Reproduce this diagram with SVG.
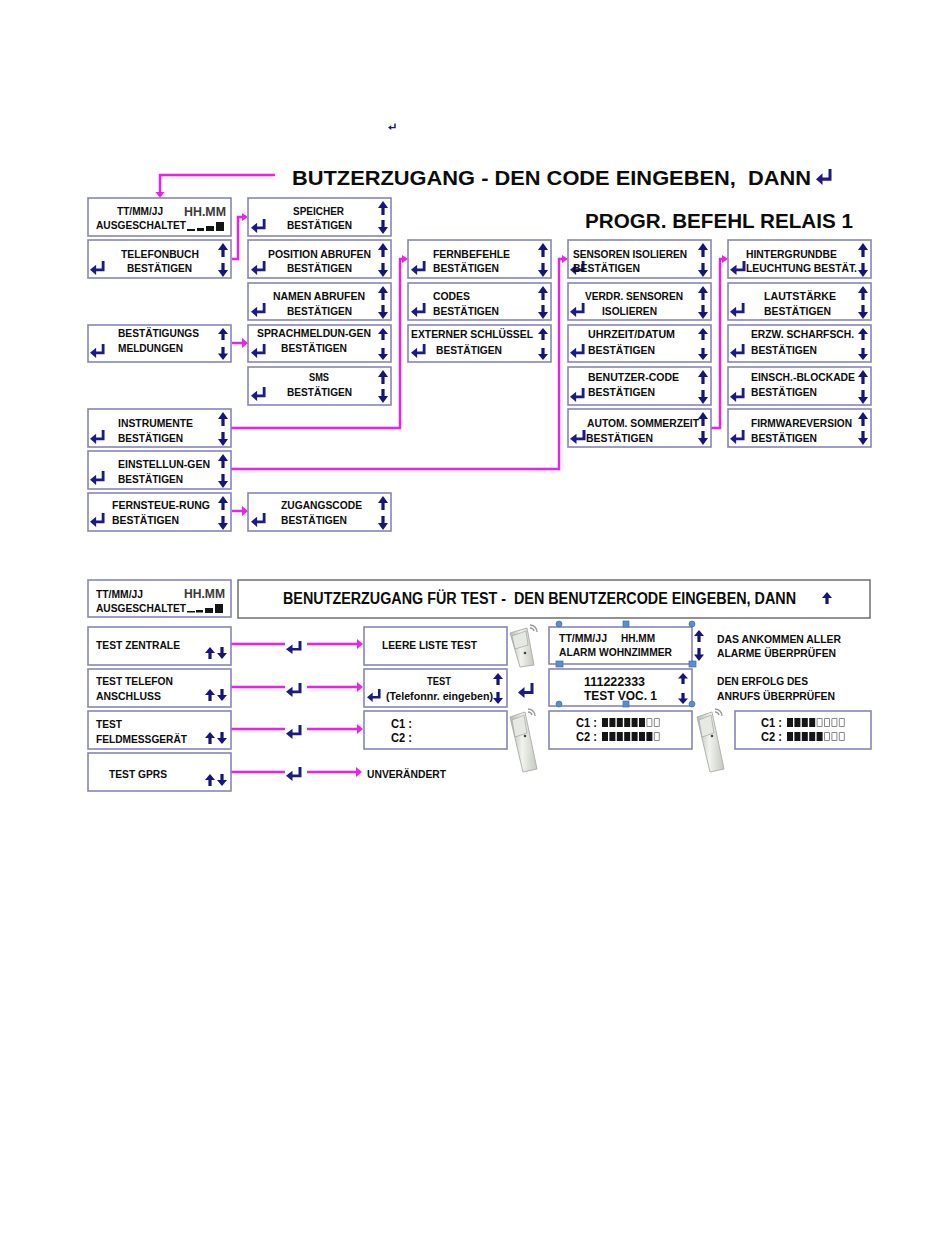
<svg xmlns="http://www.w3.org/2000/svg" width="950" height="1237" viewBox="0 0 950 1237">
<style>
text{font-family:"Liberation Sans",Arial,sans-serif;font-weight:bold;font-size:10.5px;fill:#0c0c0c;white-space:pre}
.b{fill:#fff;stroke:#8585bb;stroke-width:1.600}
.c{fill:none;stroke:#f01cf0;stroke-width:2.400}
.h{fill:#ee20ee}
.hh{font-size:12px;fill:#3a3a3a}
.m{font-size:12px}
.s{fill:#5b8ed0;stroke:#3f6fb0;stroke-width:.7}
.f{fill:#151515}
.o{fill:#fff;stroke:#8a8a8a;stroke-width:1}
.w{fill:none;stroke:#9a9a9a;stroke-width:1.400}
</style>
<defs>
<symbol id="e" viewBox="0 0 16 16" preserveAspectRatio="none"><path d="M14 1V10.500H5" fill="none" stroke="#1b1b86" stroke-width="3"/><path d="M6.500 5L0 10.500L6.500 16Z" fill="#1b1b86"/></symbol>
<symbol id="u" viewBox="0 0 10 14" preserveAspectRatio="none"><path d="M5 14V5" stroke="#14147a" stroke-width="3.200"/><path d="M0 7L5 0L10 7Z" fill="#14147a"/></symbol>
<symbol id="d" viewBox="0 0 10 14" preserveAspectRatio="none"><path d="M5 0V9" stroke="#14147a" stroke-width="3.200"/><path d="M0 7L5 14L10 7Z" fill="#14147a"/></symbol>
<linearGradient id="g" x1="0" x2="1" y1="0" y2="0"><stop offset="0" stop-color="#b4b8ae"/><stop offset=".45" stop-color="#f2f3ee"/><stop offset="1" stop-color="#c4c8c0"/></linearGradient>
</defs>

<use href="#e" x="388" y="123" width="8" height="7"/>
<g id="title1"><text x="292" y="185" style="font-size:21px" textLength="519" lengthAdjust="spacingAndGlyphs">BUTZERZUGANG - DEN CODE EINGEBEN,  DANN</text><use href="#e" x="816" y="168" width="16" height="17"/></g>
<g id="title2"><text x="585" y="228" style="font-size:20px" textLength="268" lengthAdjust="spacingAndGlyphs">PROGR. BEFEHL RELAIS 1</text></g>

<g id="connectors">
<path class="c" d="M275 175H160V193"/><path class="h" d="M155.500 192L160 198L164.500 192Z"/>
<path class="c" d="M232 259H238V217H243"/><path class="h" d="M242 213L248 217L242 221Z"/>
<path class="c" d="M232 343H243"/><path class="h" d="M242 338L248 343L242 348Z"/>
<path class="c" d="M231 428H400V259H403"/><path class="h" d="M402 255L408 259L402 263Z"/>
<path class="c" d="M231 469H559V259H563"/><path class="h" d="M562 255L568 259L562 263Z"/>
<path class="c" d="M711 428H720V259H723"/><path class="h" d="M722 255L728 259L722 263Z"/>
<path class="c" d="M232 511H243"/><path class="h" d="M242 506L248 511L242 516Z"/>
<path class="c" d="M231 644H285M307 644H358"/><path class="h" d="M357 639L363 644L357 649Z"/>
<path class="c" d="M231 687H285M307 687H358"/><path class="h" d="M357 682L363 687L357 692Z"/>
<path class="c" d="M231 729H285M307 729H358"/><path class="h" d="M357 724L363 729L357 734Z"/>
<path class="c" d="M231 772H285M307 772H357"/><path class="h" d="M356 767L362 772L356 777Z"/>
</g>

<g id="n-status"><rect class="b" x="88" y="198" width="143" height="38"/><text x="117" y="215" textLength="46" lengthAdjust="spacingAndGlyphs">TT/MM/JJ</text><text class="hh" x="184" y="216" textLength="42" lengthAdjust="spacingAndGlyphs">HH.MM</text><text x="96" y="229" textLength="90" lengthAdjust="spacingAndGlyphs">AUSGESCHALTET</text><path class="f" d="M187 229h8v2h-8zM197 228h7v3h-7zM206 226h8v5h-8zM216 222h8v9h-8z"/></g>
<g id="n-telefonbuch"><rect class="b" x="88" y="240" width="143" height="38"/><text x="121" y="258" textLength="78" lengthAdjust="spacingAndGlyphs">TELEFONBUCH</text><text x="127" y="272" textLength="65" lengthAdjust="spacingAndGlyphs">BESTÄTIGEN</text><use href="#u" x="218" y="243" width="10" height="14"/><use href="#d" x="218" y="263" width="10" height="14"/><use href="#e" x="90" y="260" width="15" height="15"/></g>
<g id="n-meldungen"><rect class="b" x="88" y="325" width="143" height="37"/><text x="118" y="337" textLength="81" lengthAdjust="spacingAndGlyphs">BESTÄTIGUNGS</text><text x="118" y="352" textLength="65" lengthAdjust="spacingAndGlyphs">MELDUNGEN</text><use href="#u" x="218" y="328" width="10" height="12"/><use href="#d" x="218" y="347" width="10" height="13"/><use href="#e" x="90" y="343" width="15" height="15"/></g>
<g id="n-instrumente"><rect class="b" x="88" y="409" width="143" height="38"/><text x="118" y="427" textLength="75" lengthAdjust="spacingAndGlyphs">INSTRUMENTE</text><text x="118" y="442" textLength="65" lengthAdjust="spacingAndGlyphs">BESTÄTIGEN</text><use href="#u" x="218" y="412" width="10" height="14"/><use href="#d" x="218" y="432" width="10" height="14"/><use href="#e" x="90" y="429" width="15" height="15"/></g>
<g id="n-einstellungen"><rect class="b" x="88" y="451" width="143" height="38"/><text x="118" y="468" textLength="92" lengthAdjust="spacingAndGlyphs">EINSTELLUN-GEN</text><text x="118" y="483" textLength="65" lengthAdjust="spacingAndGlyphs">BESTÄTIGEN</text><use href="#u" x="218" y="454" width="10" height="14"/><use href="#d" x="218" y="474" width="10" height="14"/><use href="#e" x="90" y="470" width="15" height="15"/></g>
<g id="n-fernsteuerung"><rect class="b" x="88" y="493" width="143" height="38"/><text x="112" y="509" textLength="98" lengthAdjust="spacingAndGlyphs">FERNSTEUE-RUNG</text><text x="112" y="524" textLength="67" lengthAdjust="spacingAndGlyphs">BESTÄTIGEN</text><use href="#u" x="218" y="496" width="10" height="14"/><use href="#d" x="218" y="516" width="10" height="14"/><use href="#e" x="90" y="512" width="15" height="15"/></g>

<g id="n-speicher"><rect class="b" x="248" y="198" width="143" height="38"/><text x="293" y="215" textLength="51" lengthAdjust="spacingAndGlyphs">SPEICHER</text><text x="287" y="229" textLength="65" lengthAdjust="spacingAndGlyphs">BESTÄTIGEN</text><use href="#u" x="378" y="201" width="10" height="14"/><use href="#d" x="378" y="220" width="10" height="14"/><use href="#e" x="251" y="218" width="15" height="15"/></g>
<g id="n-position"><rect class="b" x="248" y="240" width="143" height="38"/><text x="268" y="258" textLength="103" lengthAdjust="spacingAndGlyphs">POSITION ABRUFEN</text><text x="287" y="272" textLength="65" lengthAdjust="spacingAndGlyphs">BESTÄTIGEN</text><use href="#u" x="378" y="243" width="10" height="14"/><use href="#d" x="378" y="263" width="10" height="14"/><use href="#e" x="251" y="260" width="15" height="15"/></g>
<g id="n-namen"><rect class="b" x="248" y="283" width="143" height="37"/><text x="273" y="300" textLength="92" lengthAdjust="spacingAndGlyphs">NAMEN ABRUFEN</text><text x="287" y="315" textLength="65" lengthAdjust="spacingAndGlyphs">BESTÄTIGEN</text><use href="#u" x="378" y="286" width="10" height="14"/><use href="#d" x="378" y="305" width="10" height="14"/><use href="#e" x="251" y="302" width="15" height="15"/></g>
<g id="n-sprach"><rect class="b" x="248" y="325" width="143" height="37"/><text x="257" y="337" textLength="114" lengthAdjust="spacingAndGlyphs">SPRACHMELDUN-GEN</text><text x="281" y="352" textLength="66" lengthAdjust="spacingAndGlyphs">BESTÄTIGEN</text><use href="#u" x="378" y="328" width="10" height="12"/><use href="#d" x="378" y="348" width="10" height="12"/><use href="#e" x="251" y="343" width="15" height="15"/></g>
<g id="n-sms"><rect class="b" x="248" y="367" width="143" height="38"/><text x="309" y="381" textLength="20" lengthAdjust="spacingAndGlyphs">SMS</text><text x="287" y="396" textLength="65" lengthAdjust="spacingAndGlyphs">BESTÄTIGEN</text><use href="#u" x="378" y="370" width="10" height="14"/><use href="#d" x="378" y="389" width="10" height="14"/><use href="#e" x="251" y="386" width="15" height="15"/></g>
<g id="n-zugangscode"><rect class="b" x="248" y="493" width="143" height="38"/><text x="281" y="509" textLength="81" lengthAdjust="spacingAndGlyphs">ZUGANGSCODE</text><text x="281" y="524" textLength="66" lengthAdjust="spacingAndGlyphs">BESTÄTIGEN</text><use href="#u" x="378" y="496" width="10" height="14"/><use href="#d" x="378" y="516" width="10" height="14"/><use href="#e" x="251" y="512" width="15" height="15"/></g>

<g id="n-fernbefehle"><rect class="b" x="408" y="240" width="143" height="38"/><text x="433" y="258" textLength="77" lengthAdjust="spacingAndGlyphs">FERNBEFEHLE</text><text x="433" y="272" textLength="66" lengthAdjust="spacingAndGlyphs">BESTÄTIGEN</text><use href="#u" x="538" y="243" width="10" height="14"/><use href="#d" x="538" y="263" width="10" height="14"/><use href="#e" x="411" y="260" width="15" height="15"/></g>
<g id="n-codes"><rect class="b" x="408" y="283" width="143" height="37"/><text x="433" y="300" textLength="37" lengthAdjust="spacingAndGlyphs">CODES</text><text x="433" y="315" textLength="66" lengthAdjust="spacingAndGlyphs">BESTÄTIGEN</text><use href="#u" x="538" y="286" width="10" height="14"/><use href="#d" x="538" y="305" width="10" height="14"/><use href="#e" x="411" y="302" width="15" height="15"/></g>
<g id="n-schluessel"><rect class="b" x="408" y="325" width="143" height="37"/><text x="411" y="338" textLength="122" lengthAdjust="spacingAndGlyphs">EXTERNER SCHLÜSSEL</text><text x="436" y="354" textLength="66" lengthAdjust="spacingAndGlyphs">BESTÄTIGEN</text><use href="#u" x="538" y="328" width="10" height="12"/><use href="#d" x="538" y="348" width="10" height="12"/><use href="#e" x="411" y="343" width="15" height="15"/></g>

<g id="n-sensoren"><rect class="b" x="568" y="240" width="143" height="38"/><use href="#u" x="698" y="243" width="10" height="14"/><use href="#d" x="698" y="263" width="10" height="14"/><use href="#e" x="570" y="260" width="15" height="15"/><text x="573" y="258" textLength="114" lengthAdjust="spacingAndGlyphs">SENSOREN ISOLIEREN</text><text x="573" y="272" textLength="67" lengthAdjust="spacingAndGlyphs">BESTÄTIGEN</text></g>
<g id="n-verdr"><rect class="b" x="568" y="283" width="143" height="37"/><text x="585" y="300" textLength="98" lengthAdjust="spacingAndGlyphs">VERDR. SENSOREN</text><text x="602" y="315" textLength="55" lengthAdjust="spacingAndGlyphs">ISOLIEREN</text><use href="#u" x="698" y="286" width="10" height="14"/><use href="#d" x="698" y="305" width="10" height="14"/><use href="#e" x="570" y="302" width="15" height="15"/></g>
<g id="n-uhrzeit"><rect class="b" x="568" y="325" width="143" height="37"/><text x="588" y="338" textLength="87" lengthAdjust="spacingAndGlyphs">UHRZEIT/DATUM</text><text x="588" y="354" textLength="67" lengthAdjust="spacingAndGlyphs">BESTÄTIGEN</text><use href="#u" x="698" y="328" width="10" height="12"/><use href="#d" x="698" y="348" width="10" height="12"/><use href="#e" x="570" y="343" width="15" height="15"/></g>
<g id="n-benutzer"><rect class="b" x="568" y="367" width="143" height="38"/><text x="588" y="381" textLength="91" lengthAdjust="spacingAndGlyphs">BENUTZER-CODE</text><text x="588" y="396" textLength="67" lengthAdjust="spacingAndGlyphs">BESTÄTIGEN</text><use href="#u" x="698" y="370" width="10" height="14"/><use href="#d" x="698" y="390" width="10" height="14"/><use href="#e" x="570" y="387" width="15" height="15"/></g>
<g id="n-autom"><rect class="b" x="568" y="409" width="143" height="38"/><use href="#u" x="698" y="412" width="10" height="14"/><use href="#d" x="698" y="431" width="10" height="14"/><use href="#e" x="570" y="429" width="16" height="15"/><text x="587" y="427" textLength="112" lengthAdjust="spacingAndGlyphs">AUTOM. SOMMERZEIT</text><text x="586" y="442" textLength="67" lengthAdjust="spacingAndGlyphs">BESTÄTIGEN</text></g>

<g id="n-hintergrund"><rect class="b" x="728" y="240" width="143" height="38"/><use href="#u" x="858" y="243" width="10" height="14"/><use href="#d" x="858" y="263" width="10" height="14"/><use href="#e" x="730" y="260" width="16" height="15"/><text x="746" y="258" textLength="91" lengthAdjust="spacingAndGlyphs">HINTERGRUNDBE</text><text x="746" y="272" textLength="111" lengthAdjust="spacingAndGlyphs">LEUCHTUNG BESTÄT.</text></g>
<g id="n-lautstaerke"><rect class="b" x="728" y="283" width="143" height="37"/><text x="764" y="300" textLength="72" lengthAdjust="spacingAndGlyphs">LAUTSTÄRKE</text><text x="764" y="315" textLength="67" lengthAdjust="spacingAndGlyphs">BESTÄTIGEN</text><use href="#u" x="858" y="286" width="10" height="14"/><use href="#d" x="858" y="305" width="10" height="14"/><use href="#e" x="730" y="302" width="15" height="15"/></g>
<g id="n-erzw"><rect class="b" x="728" y="325" width="143" height="37"/><text x="751" y="338" textLength="103" lengthAdjust="spacingAndGlyphs">ERZW. SCHARFSCH.</text><text x="751" y="354" textLength="66" lengthAdjust="spacingAndGlyphs">BESTÄTIGEN</text><use href="#u" x="858" y="328" width="10" height="12"/><use href="#d" x="858" y="348" width="10" height="12"/><use href="#e" x="730" y="343" width="15" height="15"/></g>
<g id="n-einsch"><rect class="b" x="728" y="367" width="143" height="38"/><text x="751" y="381" textLength="104" lengthAdjust="spacingAndGlyphs">EINSCH.-BLOCKADE</text><text x="751" y="396" textLength="66" lengthAdjust="spacingAndGlyphs">BESTÄTIGEN</text><use href="#u" x="858" y="370" width="10" height="14"/><use href="#d" x="858" y="390" width="10" height="14"/><use href="#e" x="730" y="387" width="15" height="15"/></g>
<g id="n-firmware"><rect class="b" x="728" y="409" width="143" height="38"/><text x="751" y="427" textLength="101" lengthAdjust="spacingAndGlyphs">FIRMWAREVERSION</text><text x="751" y="442" textLength="66" lengthAdjust="spacingAndGlyphs">BESTÄTIGEN</text><use href="#u" x="858" y="412" width="10" height="14"/><use href="#d" x="858" y="431" width="10" height="14"/><use href="#e" x="730" y="429" width="15" height="15"/></g>

<g id="n-status2"><rect class="b" x="88" y="580" width="143" height="37"/><text x="96" y="598" textLength="47" lengthAdjust="spacingAndGlyphs">TT/MM/JJ</text><text class="hh" x="184" y="598" textLength="41" lengthAdjust="spacingAndGlyphs">HH.MM</text><text x="96" y="612" textLength="90" lengthAdjust="spacingAndGlyphs">AUSGESCHALTET</text><path class="f" d="M187 611h8v1.500h-8zM196 610h7v2.500h-7zM205 608h8v5h-8zM215 604h8v9h-8z"/></g>
<g id="n-title3"><rect x="238" y="580" width="632" height="38" fill="#fff" stroke="#777" stroke-width="1.600"/><text x="283" y="604" style="font-size:16px" textLength="513" lengthAdjust="spacingAndGlyphs">BENUTZERZUGANG FÜR TEST -  DEN BENUTZERCODE EINGEBEN, DANN</text><use href="#u" x="822" y="592" width="10" height="12"/></g>

<g id="n-testzentrale"><rect class="b" x="88" y="627" width="143" height="38"/><text x="96" y="649" textLength="84" lengthAdjust="spacingAndGlyphs">TEST ZENTRALE</text><use href="#u" x="205" y="647" width="10" height="12"/><use href="#d" x="217" y="647" width="10" height="12"/></g>
<g id="n-testtelefon"><rect class="b" x="88" y="669" width="143" height="38"/><text x="96" y="685" textLength="77" lengthAdjust="spacingAndGlyphs">TEST TELEFON</text><text x="96" y="700" textLength="65" lengthAdjust="spacingAndGlyphs">ANSCHLUSS</text><use href="#u" x="205" y="689" width="10" height="12"/><use href="#d" x="217" y="689" width="10" height="12"/></g>
<g id="n-testfeld"><rect class="b" x="88" y="711" width="143" height="38"/><text x="96" y="728" textLength="26" lengthAdjust="spacingAndGlyphs">TEST</text><text x="96" y="743" textLength="91" lengthAdjust="spacingAndGlyphs">FELDMESSGERÄT</text><use href="#u" x="205" y="732" width="10" height="12"/><use href="#d" x="217" y="732" width="10" height="12"/></g>
<g id="n-testgprs"><rect class="b" x="88" y="753" width="143" height="38"/><text x="109" y="778" textLength="58" lengthAdjust="spacingAndGlyphs">TEST GPRS</text><use href="#u" x="205" y="774" width="10" height="12"/><use href="#d" x="217" y="774" width="10" height="12"/></g>

<g id="enter-icons"><use href="#e" x="286" y="640" width="16" height="14"/><use href="#e" x="286" y="682" width="16" height="15"/><use href="#e" x="286" y="724" width="16" height="15"/><use href="#e" x="286" y="766" width="16" height="15"/><use href="#e" x="518" y="682" width="16" height="16"/></g>

<g id="n-leere"><rect class="b" x="364" y="627" width="143" height="38"/><text x="382" y="649" textLength="95" lengthAdjust="spacingAndGlyphs">LEERE LISTE TEST</text></g>
<g id="n-testnr"><rect class="b" x="364" y="669" width="143" height="38"/><text x="427" y="685" textLength="24" lengthAdjust="spacingAndGlyphs">TEST</text><text x="386" y="700" textLength="107" lengthAdjust="spacingAndGlyphs">(Telefonnr. eingeben)</text><use href="#u" x="493" y="673" width="10" height="12"/><use href="#d" x="493" y="692" width="10" height="12"/><use href="#e" x="367" y="688" width="14" height="14"/></g>
<g id="n-c1"><rect class="b" x="364" y="711" width="143" height="38"/><text class="m" x="391" y="728" textLength="21" lengthAdjust="spacingAndGlyphs">C1 :</text><text class="m" x="391" y="742" textLength="21" lengthAdjust="spacingAndGlyphs">C2 :</text></g>
<g id="n-unveraendert"><text x="367" y="778" textLength="79" lengthAdjust="spacingAndGlyphs">UNVERÄNDERT</text></g>

<g id="sensor1"><path d="M510 633L527 628L534 665L520 667Z" fill="url(#g)" stroke="#b0b4ac"/><path d="M512 636L526 631L528 645L515 649Z" fill="#e6e9e2" stroke="#999" stroke-width=".6"/><circle cx="525" cy="653" r="1.300" fill="#444"/><path class="w" d="M530 628A4 4 0 0 1 534 631M530 625A7 7 0 0 1 537 632"/></g>
<g id="sensor2"><path d="M510 717L525 712L537 769L523 772Z" fill="url(#g)" stroke="#b0b4ac"/><path d="M512 720L524 715L527 733L515 737Z" fill="#e6e9e2" stroke="#999" stroke-width=".6"/><circle cx="525" cy="736" r="1.300" fill="#444"/><path class="w" d="M528 712A4 4 0 0 1 532 715M528 709A7 7 0 0 1 535 716"/></g>
<g id="sensor3"><path d="M697 717L712 712L724 769L710 772Z" fill="url(#g)" stroke="#b0b4ac"/><path d="M699 720L711 715L714 733L702 737Z" fill="#e6e9e2" stroke="#999" stroke-width=".6"/><circle cx="712" cy="736" r="1.300" fill="#444"/><path class="w" d="M715 712A4 4 0 0 1 719 715M715 709A7 7 0 0 1 722 716"/></g>

<g id="n-alarm"><rect class="b" x="549" y="627" width="143" height="37"/><text x="559" y="642" textLength="48" lengthAdjust="spacingAndGlyphs">TT/MM/JJ</text><text x="621" y="642" textLength="34" lengthAdjust="spacingAndGlyphs">HH.MM</text><text x="559" y="656" textLength="113" lengthAdjust="spacingAndGlyphs">ALARM WOHNZIMMER</text><use href="#u" x="694" y="630" width="10" height="12"/><use href="#d" x="694" y="648" width="10" height="13"/></g>
<g id="n-voc"><rect class="b" x="549" y="669" width="143" height="37"/><text class="m" x="584" y="686" textLength="61" lengthAdjust="spacingAndGlyphs">111222333</text><text class="m" x="584" y="700" textLength="73" lengthAdjust="spacingAndGlyphs">TEST VOC. 1</text><use href="#u" x="678" y="673" width="10" height="11"/><use href="#d" x="678" y="693" width="10" height="11"/></g>
<g id="handles"><circle class="s" cx="559" cy="624" r="3"/><rect class="s" x="623" y="621" width="6" height="6"/><circle class="s" cx="692" cy="624" r="3"/><rect class="s" x="556" y="661" width="7" height="6"/><rect class="s" x="689" y="661" width="7" height="6"/><circle class="s" cx="559" cy="704" r="3"/><rect class="s" x="623" y="701" width="6" height="6"/><circle class="s" cx="692" cy="704" r="3"/></g>
<g id="n-bars1"><rect class="b" x="549" y="711" width="143" height="38"/><text class="m" x="576" y="727" textLength="21" lengthAdjust="spacingAndGlyphs">C1 :</text><text class="m" x="576" y="741" textLength="21" lengthAdjust="spacingAndGlyphs">C2 :</text>
<path class="f" d="M602 718h6v9h-6zM609.400 718h6v9h-6zM616.800 718h6v9h-6zM624.200 718h6v9h-6zM631.600 718h6v9h-6zM639 718h6v9h-6zM602 732h6v9h-6zM609.400 732h6v9h-6zM616.800 732h6v9h-6zM624.200 732h6v9h-6zM631.600 732h6v9h-6zM639 732h6v9h-6zM646.400 732h6v9h-6z"/><path class="o" d="M646.900 718.500h5v8h-5zM654.300 718.500h5v8h-5zM654.300 732.500h5v8h-5z"/></g>
<g id="n-bars2"><rect class="b" x="735" y="711" width="136" height="38"/><text class="m" x="761" y="727" textLength="21" lengthAdjust="spacingAndGlyphs">C1 :</text><text class="m" x="761" y="741" textLength="21" lengthAdjust="spacingAndGlyphs">C2 :</text>
<path class="f" d="M787 718h6v9h-6zM794.400 718h6v9h-6zM801.800 718h6v9h-6zM809.200 718h6v9h-6zM787 732h6v9h-6zM794.400 732h6v9h-6zM801.800 732h6v9h-6zM809.200 732h6v9h-6zM816.600 732h6v9h-6z"/><path class="o" d="M817.100 718.500h5v8h-5zM824.500 718.500h5v8h-5zM831.900 718.500h5v8h-5zM839.300 718.500h5v8h-5zM824.500 732.500h5v8h-5zM831.900 732.500h5v8h-5zM839.300 732.500h5v8h-5z"/></g>
<g id="notes"><text x="717" y="643" textLength="124" lengthAdjust="spacingAndGlyphs">DAS ANKOMMEN ALLER</text><text x="717" y="657" textLength="119" lengthAdjust="spacingAndGlyphs">ALARME ÜBERPRÜFEN</text><text x="717" y="685" textLength="91" lengthAdjust="spacingAndGlyphs">DEN ERFOLG DES</text><text x="717" y="700" textLength="118" lengthAdjust="spacingAndGlyphs">ANRUFS ÜBERPRÜFEN</text></g>
</svg>
